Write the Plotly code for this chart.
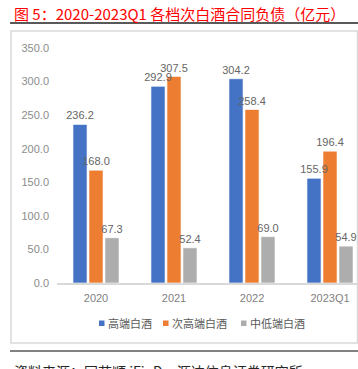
import plotly.graph_objects as go

categories = ["2020", "2021", "2022", "2023Q1"]
high_end = [236.2, 292.9, 304.2, 155.9]
sub_high_end = [168.0, 307.5, 258.4, 196.4]
mid_low_end = [67.3, 52.4, 69.0, 54.9]
series_names = ["高端白酒", "次高端白酒", "中低端白酒"]
y_ticks = [0, 50, 100, 150, 200, 250, 300, 350]

colors = ["#4472C4", "#ED7D31", "#ADADAD"]
FONT = "Liberation Sans, Arial, Noto Sans CJK SC, sans-serif"
CJK = "Noto Sans CJK SC, sans-serif"

W, H = 358, 369
L, R, T, B = 57, 357, 48, 283

def px(x):
    return (x - L) / (R - L)
def py(y):
    return (B - y) / (B - T)

series = [high_end, sub_high_end, mid_low_end]
fig = go.Figure()
for i, (name, vals, c) in enumerate(zip(series_names, series, colors)):
    fig.add_trace(go.Bar(
        x=categories, y=vals, name=name, offsetgroup=str(i),
        marker=dict(color=c, line=dict(color="rgba(255,255,255,0.6)", width=1)),
        showlegend=False,
    ))
# data labels drawn on top of all bars
for i, (name, vals) in enumerate(zip(series_names, series)):
    fig.add_trace(go.Bar(
        x=categories, y=vals, name=name + " 标签", offsetgroup=str(i),
        marker=dict(color="rgba(0,0,0,0)", line=dict(width=0)),
        text=[f"{v:.1f}" for v in vals], textposition="outside", constraintext="none",
        textfont=dict(size=11, color="#666666", family=FONT),
        cliponaxis=False, showlegend=False,
    ))

legend_sq_x = [99, 163, 241]
shapes = [
    dict(type="line", xref="paper", yref="paper", x0=px(10), x1=px(358), y0=py(23), y1=py(23),
         line=dict(color="#595959", width=2)),
    dict(type="rect", xref="paper", yref="paper", x0=px(11), x1=px(357.5), y0=py(343), y1=py(31),
         line=dict(color="#D9D9D9", width=1.5)),
    dict(type="line", xref="paper", yref="paper", x0=px(10), x1=px(358), y0=py(351), y1=py(351),
         line=dict(color="#595959", width=1.5)),
]
annotations = [
    dict(text="图 5：2020-2023Q1 各档次白酒合同负债（亿元）", xref="paper", yref="paper",
         x=px(12), y=py(13.5), xanchor="left", yanchor="middle", showarrow=False,
         font=dict(size=15, color="#FF0000", family=CJK)),
    dict(text="资料来源：同花顺 iFinD，源达信息证券研究所", xref="paper", yref="paper",
         x=px(12), y=py(371), xanchor="left", yanchor="middle", showarrow=False,
         font=dict(size=14, color="#262626", family=CJK)),
]
for sx, name, c in zip(legend_sq_x, series_names, colors):
    shapes.append(dict(type="rect", xref="paper", yref="paper", x0=px(sx), x1=px(sx + 5.5),
                       y0=py(326), y1=py(320.5), fillcolor=c, line=dict(width=0)))
    annotations.append(dict(text=name, xref="paper", yref="paper", x=px(sx + 7), y=py(323),
                            xanchor="left", yanchor="middle", showarrow=False,
                            font=dict(size=11, color="#595959", family=CJK)))

fig.update_layout(
    width=W, height=H,
    margin=dict(l=L, r=W - R, t=T, b=H - B),
    paper_bgcolor="white", plot_bgcolor="white",
    barmode="group", bargap=0.385, bargroupgap=0.12,
    font=dict(family=FONT, color="#7F7F7F", size=11),
    showlegend=False,
    xaxis=dict(type="category", range=[-0.5, 3.346], showline=True, linecolor="#D9D9D9",
               linewidth=1.5, ticks="", tickfont=dict(size=11, color="#7F7F7F"), showgrid=False,
               ticklabelstandoff=4),
    yaxis=dict(range=[0, 350], tickvals=y_ticks, tickformat=".1f", showgrid=False,
               zeroline=False, showline=False, ticks="", tickfont=dict(size=11, color="#8C8C8C"),
               ticklabelstandoff=7),
    shapes=shapes,
    annotations=annotations,
)

fig.write_html("out.html", config={"displayModeBar": False, "staticPlot": True},
               post_script="document.body.style.margin='0';document.body.style.overflow='hidden';")
